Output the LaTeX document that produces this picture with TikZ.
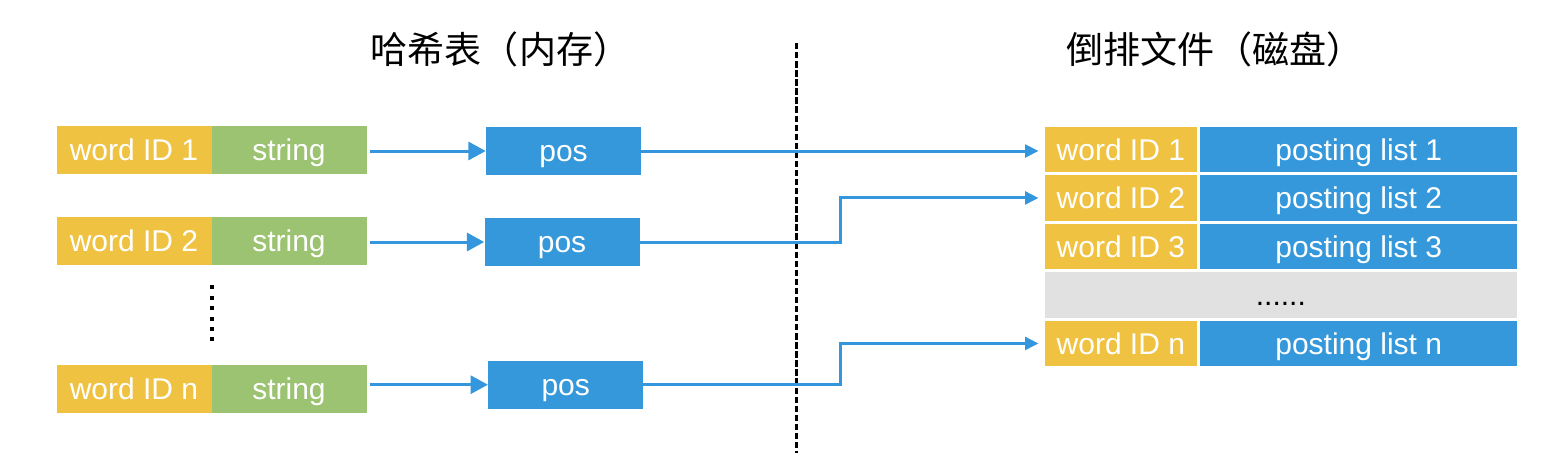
\documentclass[tikz,border=0pt]{standalone}
\usepackage{fontspec}
\setmainfont{Liberation Sans}
\newfontfamily\cjk{Noto Sans CJK SC}
\usetikzlibrary{arrows.meta}

\definecolor{idyellow}{RGB}{240,194,66}
\definecolor{strgreen}{RGB}{155,195,113}
\definecolor{posblue}{RGB}{52,152,219}
\definecolor{linkblue}{RGB}{52,150,220}
\definecolor{gapgray}{RGB}{225,225,225}

\begin{document}
\begin{tikzpicture}[x=0.75pt,y=0.75pt,yscale=-1,xscale=1,
  cell/.style={inner sep=0pt, text=white, font=\fontsize{22.5}{27}\selectfont, text height=16pt, text depth=0pt},
  hashcell/.style={cell, minimum width=116.25pt, minimum height=36pt},
  filecell/.style={cell, draw=white, line width=2.25pt, minimum height=36.4pt},
  title/.style={inner sep=0pt, font=\cjk\fontsize{27.8}{32}\selectfont},
  feed/.style={draw=linkblue, line width=2.25pt, shorten <=2.6pt, -{Triangle[length=13pt,width=13.5pt]}},
  link/.style={draw=linkblue, line width=2.25pt, shorten >=2.25pt, -{Triangle[length=10pt,width=9.5pt]}}]
\useasboundingbox (0,0) rectangle (1544,457);

% Text Node
\node[title] (hashtitle) at (500.5,49) {哈希表（内存）};
% Text Node
\node[title] (filetitle) at (1215,49) {倒排文件（磁盘）};

%Straight Lines
\coordinate (divtop) at (796.7,43);
\coordinate (divbot) at (796.7,453);
\draw [line width=2pt, dash pattern=on 4.8pt off 2pt] (divtop) -- (divbot);

%Shape: Rectangle
\node[hashcell, fill=idyellow] (wid1) at (134,150) {word ID 1};
\node[hashcell, fill=strgreen] (str1) at (289,150) {string};
\node[hashcell, fill=idyellow] (wid2) at (134,241.3) {word ID 2};
\node[hashcell, fill=strgreen] (str2) at (289,241.3) {string};
\node[hashcell, fill=idyellow] (widn) at (134,389) {word ID n};
\node[hashcell, fill=strgreen] (strn) at (289,389) {string};

%Straight Lines
\coordinate (dottop) at (211.7,285.3);
\coordinate (dotbot) at (211.7,341.3);
\draw [line width=3pt, dash pattern=on 3pt off 4.8pt] (dottop) -- (dotbot);

%Shape: Rectangle
\node[hashcell, fill=posblue] (pos1) at (563.5,151) {pos};
\node[hashcell, fill=posblue] (pos2) at (562,242) {pos};
\node[hashcell, fill=posblue] (posn) at (565.7,384.7) {pos};

%Shape: Rectangle
\node[filecell, fill=idyellow, minimum width=116.8pt] (wr1) at (1120.85,149.45) {word ID 1};
\node[filecell, fill=posblue, minimum width=240pt] (pl1) at (1358.7,149.45) {posting list 1};
\node[filecell, fill=idyellow, minimum width=116.8pt] (wr2) at (1120.85,197.95) {word ID 2};
\node[filecell, fill=posblue, minimum width=240pt] (pl2) at (1358.7,197.95) {posting list 2};
\node[filecell, fill=idyellow, minimum width=116.8pt] (wr3) at (1120.85,246.45) {word ID 3};
\node[filecell, fill=posblue, minimum width=240pt] (pl3) at (1358.7,246.45) {posting list 3};
\node[filecell, fill=gapgray, minimum width=356.8pt, text=black] (gap) at (1280.85,294.95) {......};
\node[filecell, fill=idyellow, minimum width=116.8pt] (wrn) at (1120.85,343.45) {word ID n};
\node[filecell, fill=posblue, minimum width=240pt] (pln) at (1358.7,343.45) {posting list n};

%Straight Lines
\draw[feed] (pos1.west -| str1.east) -- (pos1.west);
\draw[feed] (pos2.west -| str2.east) -- (pos2.west);
\draw[feed] (posn.west -| strn.east) -- (posn.west);

%Straight Lines
\coordinate (kink) at (840,0);
\draw[link] (pos1.east) -- (pos1.east -| wr1.west);
\draw[link] (pos2.east) -- (pos2.east -| kink) -- (wr2.west -| kink) -- (wr2.west);
\draw[link] (posn.east) -- (posn.east -| kink) -- (wrn.west -| kink) -- (wrn.west);

\end{tikzpicture}
\end{document}
